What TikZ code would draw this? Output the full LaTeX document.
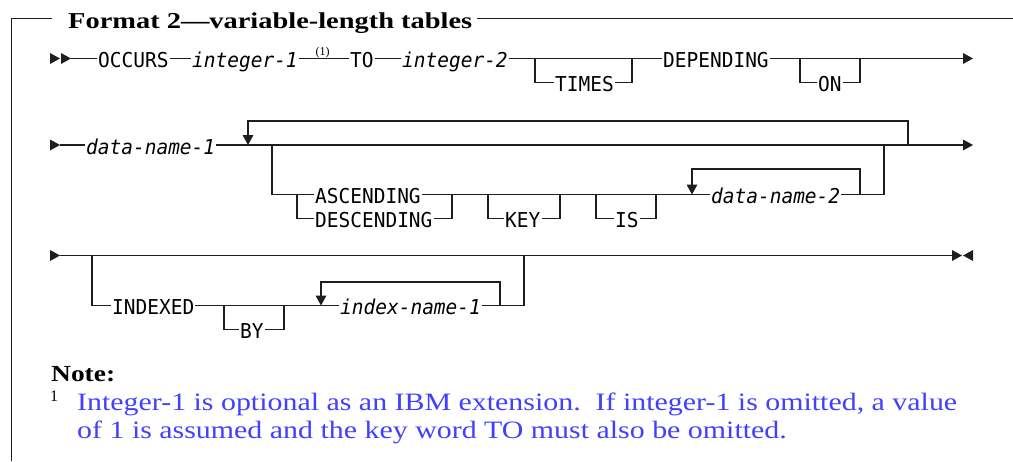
\documentclass[tikz,border=0pt]{standalone}
\usepackage{fontspec}
\usepackage{graphicx}
\newfontfamily\rrfam[FakeStretch=0.95]{DejaVu Sans Mono}
\newfontfamily\serfam{Liberation Serif}
\definecolor{noteblue}{RGB}{64,64,255}
\definecolor{railgray}{RGB}{30,30,30}
\newsavebox\notebox
\newsavebox\noteboxb
\begin{document}
\sbox\notebox{\serfam\fontsize{25}{28}\selectfont\color{noteblue}Integer-1 is optional as an IBM extension.\ \ If integer-1 is omitted, a value}%
\sbox\noteboxb{\serfam\fontsize{25}{28}\selectfont\color{noteblue}of 1 is assumed and the key word TO must also be omitted.}%
\pgfmathsetmacro\nsc{880/\the\wd\notebox}%
\begin{tikzpicture}[x=1pt,y=-1pt,
  ln/.style={line width=1.3pt, draw=railgray},
  frame/.style={line width=1.4pt, draw=railgray},
  rr/.style={font=\rrfam\fontsize{20.5}{24}\selectfont, inner xsep=1pt, inner ysep=0pt, text height=18pt, text depth=0pt, anchor=west},
  ri/.style={rr, font=\rrfam\itshape\fontsize{20.5}{24}\selectfont},
  rtri/.pic={\fill[railgray] (0,-5.5) -- (10,0) -- (0,5.5) -- cycle;},
  ltri/.pic={\fill[railgray] (0,-5.5) -- (-10,0) -- (0,5.5) -- cycle;},
  dtri/.pic={\fill[railgray] (-5.5,-10) -- (5.5,-10) -- (0,0) -- cycle;}
]
\useasboundingbox (0,0) rectangle (1013,461);

% frame and title
\node[anchor=base west, inner sep=0, font=\serfam\bfseries\fontsize{22.7}{26}\selectfont] (title) at (68,28.3) {\resizebox{404pt}{\height}{Format 2—variable-length tables}};
\draw[frame] (52,18.5) -- (11.5,18.5) -- (11.5,461);
\draw[frame] (477,18.5) -- (1013,18.5);

% ---------- row 1 ----------
\pic at (50,58.5) {rtri};
\pic at (61,58.5) {rtri};
\coordinate (s1) at (71,58.5);
\node[rr] (occ) at (97,58.5) {OCCURS};
\node[ri] (int1) at (191,58.5) {integer-1};
\node[font=\serfam\fontsize{12}{14}\selectfont, inner sep=0, anchor=base] (fn1) at (322.5,55.5) {(1)};
\node[rr] (to) at (349,58.5) {TO};
\node[ri] (int2) at (401,58.5) {integer-2};
\node[rr] (times) at (554,82.5) {TIMES};
\node[rr] (dep) at (662,58.5) {DEPENDING};
\node[rr] (on) at (817,82.5) {ON};
\coordinate (e1) at (963,58.5);
\coordinate (t1) at (535,58.5);
\coordinate (t2) at (632,58.5);
\coordinate (o1a) at (800,58.5);
\coordinate (o1b) at (860,58.5);
\draw[ln] (s1) -- (occ.west) (occ.east) -- (int1.west) (int1.east) -- (to.west)
          (to.east) -- (int2.west) (int2.east) -- (dep.west) (dep.east) -- (e1);
\pic at (e1) {rtri};
\draw[ln] (t1) -- (t1 |- times.west) -- (times.west) (times.east) -- (t2 |- times.east) -- (t2);
\draw[ln] (o1a) -- (o1a |- on.west) -- (on.west) (on.east) -- (o1b |- on.east) -- (o1b);

% ---------- row 2 ----------
\pic at (50,145) {rtri};
\coordinate (s2) at (60,145);
\node[ri] (dn1) at (85,145) {data-name-1};
\coordinate (e2) at (963,145);
\draw[ln] (s2) -- (dn1.west) (dn1.east) -- (e2);
\pic at (e2) {rtri};
\coordinate (lp1) at (248,145);
\coordinate (lp2) at (908,145);
\draw[ln] (lp2) -- (908,121) -- (248,121) -- (248,136);
\pic at (lp1) {dtri};
\coordinate (o2a) at (272,145);
\coordinate (o2b) at (884,145);
\node[rr] (asc) at (314,194.5) {ASCENDING};
\node[rr] (desc) at (314,218.5) {DESCENDING};
\node[rr] (key) at (504,218.5) {KEY};
\node[rr] (is) at (614,218.5) {IS};
\node[ri] (dn2) at (710,194.5) {data-name-2};
\draw[ln] (o2a) -- (o2a |- asc.west) -- (asc.west) (asc.east) -- (dn2.west) (dn2.east) -- (o2b |- dn2.east) -- (o2b);
\coordinate (c1) at (297,194.5);
\coordinate (c2) at (452,194.5);
\draw[ln] (c1) -- (c1 |- desc.west) -- (desc.west) (desc.east) -- (c2 |- desc.east) -- (c2);
\coordinate (k1) at (488,194.5);
\coordinate (k2) at (560,194.5);
\draw[ln] (k1) -- (k1 |- key.west) -- (key.west) (key.east) -- (k2 |- key.east) -- (k2);
\coordinate (i1) at (596,194.5);
\coordinate (i2) at (656,194.5);
\draw[ln] (i1) -- (i1 |- is.west) -- (is.west) (is.east) -- (i2 |- is.east) -- (i2);
\coordinate (lq1) at (692,194.5);
\coordinate (lq2) at (860,194.5);
\draw[ln] (lq2) -- (860,169) -- (692,169) -- (692,185.5);
\pic at (lq1) {dtri};

% ---------- row 3 ----------
\pic at (50,255.5) {rtri};
\coordinate (s3) at (60,255.5);
\coordinate (e3) at (952,255.5);
\draw[ln] (s3) -- (e3);
\pic at (e3) {rtri};
\pic at (973,255.5) {ltri};
\coordinate (o3a) at (92,255.5);
\coordinate (o3b) at (524,255.5);
\node[rr] (idx) at (111,305.5) {INDEXED};
\node[rr] (by) at (239,329.5) {BY};
\node[ri] (ixn) at (339,305.5) {index-name-1};
\draw[ln] (o3a) -- (o3a |- idx.west) -- (idx.west) (idx.east) -- (ixn.west) (ixn.east) -- (o3b |- ixn.east) -- (o3b);
\coordinate (b1) at (224,305.5);
\coordinate (b2) at (284,305.5);
\draw[ln] (b1) -- (b1 |- by.west) -- (by.west) (by.east) -- (b2 |- by.east) -- (b2);
\coordinate (lr1) at (321,305.5);
\coordinate (lr2) at (500,305.5);
\draw[ln] (lr2) -- (500,282) -- (321,282) -- (321,296.5);
\pic at (lr1) {dtri};

% ---------- note ----------
\node[anchor=base west, inner sep=0, font=\serfam\bfseries\fontsize{23}{26}\selectfont] (note) at (51,381) {\resizebox{64pt}{\height}{Note:}};
\node[anchor=base west, inner sep=0, font=\serfam\fontsize{16}{18}\selectfont] (fnum) at (50,401.5) {1};
\node[anchor=base west, inner sep=0] (n1) at (77,410) {\scalebox{\nsc}[1]{\usebox\notebox}};
\node[anchor=base west, inner sep=0] (n2) at (77,438) {\scalebox{\nsc}[1]{\usebox\noteboxb}};
\end{tikzpicture}
\end{document}
